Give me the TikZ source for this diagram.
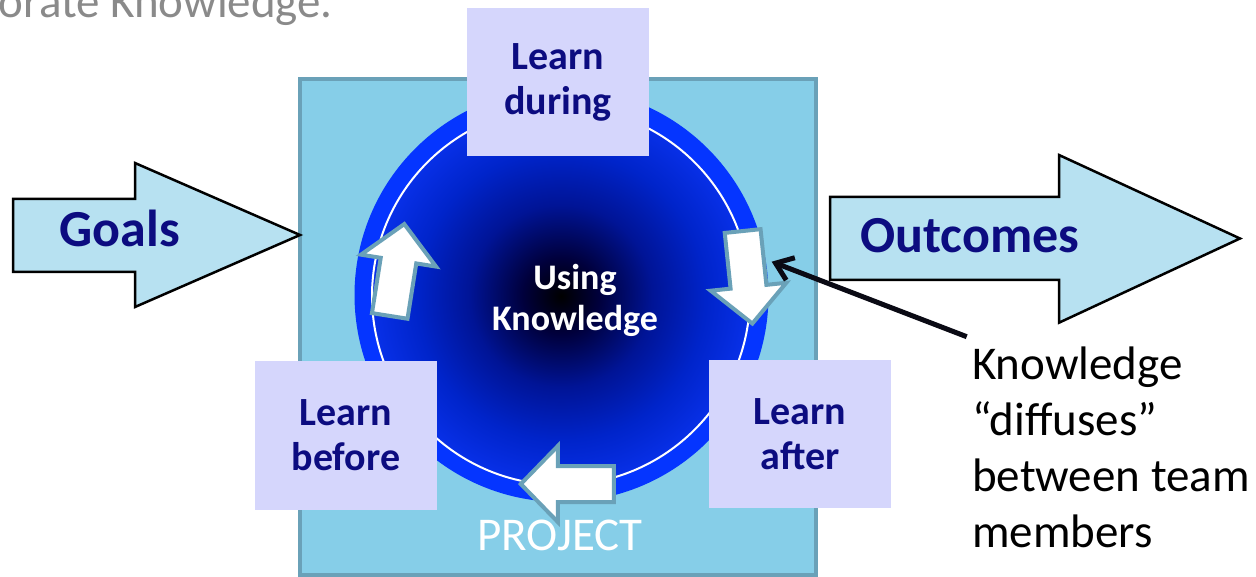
\documentclass[tikz,border=0pt]{standalone}
\usepackage{fontspec}
\setmainfont{Carlito}
\usetikzlibrary{arrows.meta}

\definecolor{projfill}{RGB}{134,206,232}
\definecolor{projedge}{RGB}{106,161,184}
\definecolor{phasefill}{RGB}{213,214,252}
\definecolor{labelnavy}{RGB}{12,12,128}
\definecolor{flowfill}{RGB}{183,225,241}
\definecolor{ringblue}{RGB}{5,53,255}
\definecolor{glowA}{RGB}{0,0,60}
\definecolor{glowB}{RGB}{0,20,150}
\definecolor{glowC}{RGB}{0,36,202}
\definecolor{glowD}{RGB}{8,48,232}
\definecolor{headgray}{RGB}{138,138,138}
\definecolor{calloutink}{RGB}{10,10,20}

% dark core fading out to bright blue at the rim
\pgfdeclareradialshading{coreglow}{\pgfpoint{0bp}{0bp}}{%
  color(0bp)=(black); color(5bp)=(glowA); color(12bp)=(glowB);
  color(19bp)=(glowC); color(25bp)=(glowD); color(50bp)=(glowD)}

\tikzset{
  phase/.style={fill=phasefill, minimum width=182pt, minimum height=148pt,
    inner sep=0pt, align=center, text=labelnavy,
    font=\bfseries\fontsize{40}{45}\selectfont},
  flowshape/.style={fill=flowfill, draw=black, line width=2.5pt, line join=miter},
  flowlabel/.style={text=labelnavy, inner sep=0pt,
    font=\bfseries\fontsize{52}{60}\selectfont},
  cyclestroke/.style={fill=white, draw=projedge, line width=4pt, line join=miter},
  corelabel/.style={text=white, align=center, inner sep=0pt,
    font=\bfseries\fontsize{36}{41}\selectfont},
  plainlabel/.style={inner sep=0pt, font=\fontsize{47}{56}\selectfont},
  callout/.style={draw=calloutink, line width=5pt,
    -{Straight Barb[length=16pt,width=24pt]}},
  pics/cyclearrow/.style={code={
    \draw[cyclestroke] (-46.5,-18) -- (9.5,-18) -- (9.5,-38) -- (46.5,0)
      -- (9.5,38) -- (9.5,18) -- (-46.5,18) -- cycle;
  }},
}

\begin{document}
\begin{tikzpicture}[x=1pt,y=-1pt]
\useasboundingbox (0,0) rectangle (1256,577);
\clip (0,0) rectangle (1256,577);

% heading line running off the top edge
\node[plainlabel, text=headgray, anchor=base east] (heading) at (333,18) {orate Knowledge.};

% project frame
\draw[fill=projfill, draw=projedge, line width=4pt] (300,79) rectangle (816,575);

% knowledge core
\fill[ringblue] (561.5,295) circle[radius=207];
\shade[shading=coreglow] (561,296) circle[radius=190];
\draw[white, line width=2pt] (561,296) circle[radius=189];

% cycle arrows round the core
\pic[rotate=81] at (397,270) {cyclearrow};
\pic[rotate=-84] at (747.5,277.3) {cyclearrow};
\pic[rotate=180] at (567.3,484) {cyclearrow};

\node[corelabel] (core) at (575,300) {Using\\Knowledge};
\node[plainlabel, text=white, anchor=base] (project) at (560,550) {PROJECT};

% learning phases
\node[phase] (during) at (558,82) {Learn\\during};
\node[phase] (before) at (346,435.5) {Learn\\before};
\node[phase] (after) at (800,434) {Learn\\after};

% goals in, outcomes out
\draw[flowshape] (13,199) -- (135,199) -- (135,163) -- (300,235) -- (135,307)
  -- (135,272) -- (13,272) -- cycle;
\node[flowlabel, anchor=base] (goals) at (120,247) {Goals};
\draw[flowshape] (830,197) -- (1059,197) -- (1059,155) -- (1240,238.5)
  -- (1059,322.7) -- (1059,280) -- (830,280) -- cycle;
\node[flowlabel, anchor=base] (outcomes) at (970,253) {Outcomes};

% diffusion note and its pointer
\node[plainlabel, align=left, anchor=north west] (diffuse) at (972,347)
  {Knowledge\\“diffuses”\\between team\\members};
\coordinate (calltail) at (966.7,336.7);
\coordinate (callhead) at (771.7,261.7);
\draw[callout] (calltail) -- (callhead);
\end{tikzpicture}
\end{document}
